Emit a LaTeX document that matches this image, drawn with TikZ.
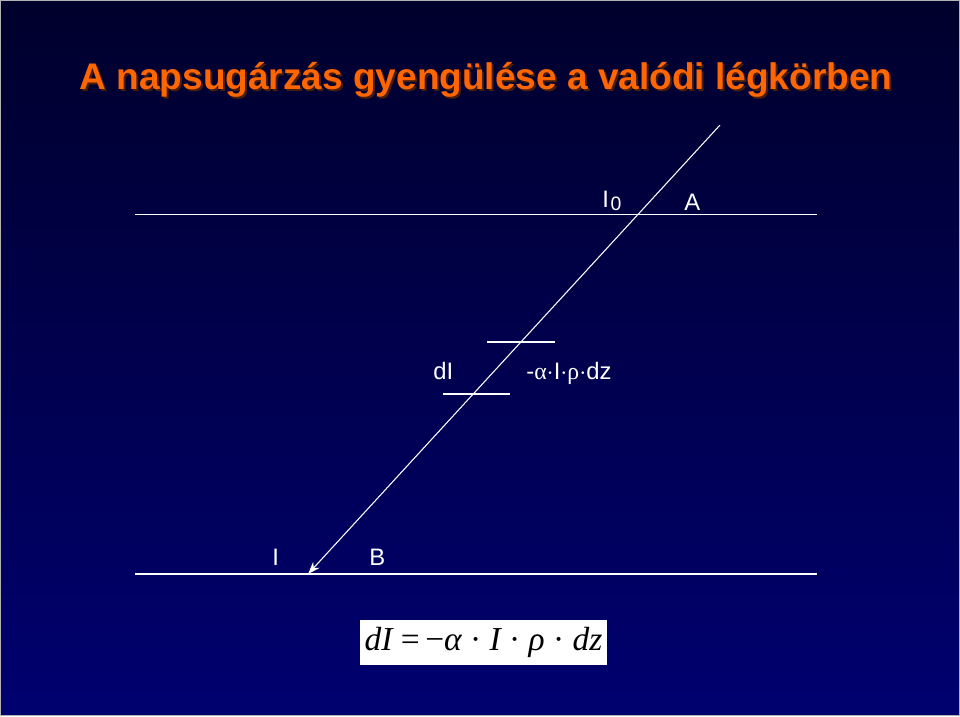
\documentclass[tikz,border=0pt]{standalone}
\usepackage{fontspec}
\setmainfont{Liberation Sans}
\newfontfamily\serif{Liberation Serif}
\usetikzlibrary{positioning,arrows.meta}
\definecolor{navytop}{RGB}{0,0,44}
\definecolor{navybot}{RGB}{0,0,112}
\definecolor{titleor}{RGB}{255,102,0}
\definecolor{titlesh}{RGB}{70,30,10}
\tikzset{lvl/.style={draw=white,line width=0.7pt},
  lab/.style={text=white,font=\fontsize{13.5}{15}\selectfont,anchor=base west,inner sep=0pt},
  ray/.style={draw=white,line width=0.6pt,-{Stealth[length=7pt,width=5pt]}}}

\begin{document}
\begin{tikzpicture}[x=0.567pt,y=-0.567pt]
    \shade[top color=navytop,bottom color=navybot] (0,0) rectangle (960,716);
    \draw[gray!60,line width=0.8pt] (0.5,0.5) rectangle (959.5,715.5);
    \useasboundingbox (0,0) rectangle (960,716);

    \node[anchor=base,inner sep=0pt,text=titlesh,font=\fontsize{21}{25}\selectfont\bfseries] (tsh) at (488,91) {A napsugárzás gyengülése a valódi légkörben};
    \node[anchor=base,inner sep=0pt,text=titleor,font=\fontsize{21}{25}\selectfont\bfseries] (title) at (486,89) {A napsugárzás gyengülése a valódi légkörben};

    \coordinate (al) at (135,214);
    \coordinate (ar) at (817,214);
    \coordinate (bl) at (135,574);
    \coordinate (br) at (817,574);
    \coordinate (su) at (487,342);
    \coordinate (sv) at (555,342);
    \coordinate (lu) at (443,394);
    \coordinate (lv) at (510,394);
    \coordinate (sun) at (720,125);
    \coordinate (hit) at (308,574);

    \draw[lvl] (al) -- (ar);
    \draw[lvl] (bl) -- (br);
    \draw[lvl] (su) -- (sv);
    \draw[lvl] (lu) -- (lv);
    \draw[ray] (sun) -- (hit);

    \node[lab] (i0) at (602,207) {I\kern1pt\raisebox{-0.3ex}{\fontsize{11}{12}\selectfont 0}};
    \node[lab] (a) at (684,210) {A};
    \node[lab] (di) at (433,379) {dI};
    \node[lab] (rate) at (526,379) {-{\serif α}$\cdot$I$\cdot${\serif ρ}$\cdot$dz};
    \node[lab] (i) at (272,566) {I};
    \node[lab] (b) at (369,566) {B};

    \node[fill=white,minimum width=140pt,minimum height=25.5pt,inner sep=0pt,font=\serif\fontsize{19}{22}\selectfont] (eq) at (483.5,642.5) {\itshape dI \upshape=\,−\itshape α \upshape·\itshape\ I \upshape·\itshape\ ρ \upshape·\itshape\ dz};
\end{tikzpicture}
\end{document}
